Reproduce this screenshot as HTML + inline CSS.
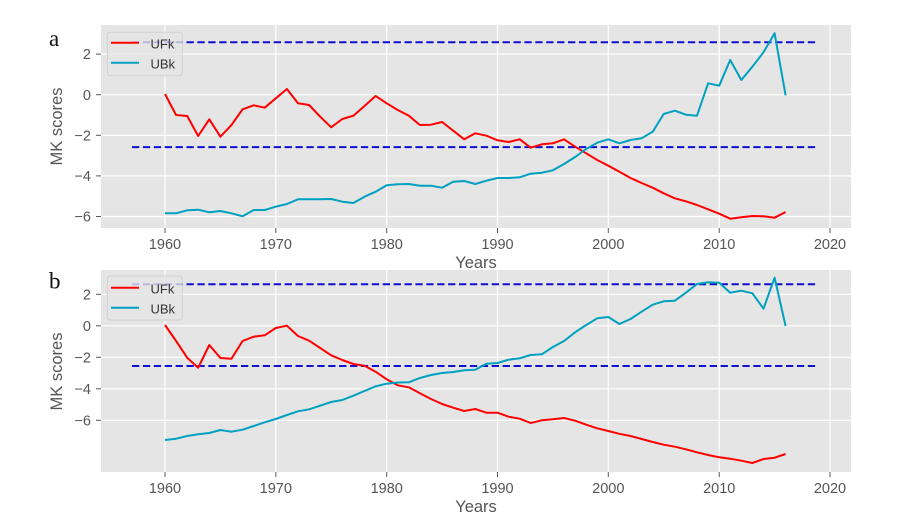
<!DOCTYPE html>
<html><head><meta charset="utf-8"><style>
html,body{margin:0;padding:0;background:#fff;}
svg{display:block;}
text{font-family:"Liberation Sans",sans-serif;}
</style></head><body>
<svg width="901" height="529" viewBox="0 0 901 529" xmlns="http://www.w3.org/2000/svg">
<rect x="0" y="0" width="901" height="529" fill="#fff"/>

<!-- ===== Panel a ===== -->
<rect x="101" y="25" width="750" height="203" fill="#e5e5e5"/>
<g stroke="#fff" stroke-width="1.2">
<line x1="101" x2="851" y1="54.1" y2="54.1"/><line x1="101" x2="851" y1="94.7" y2="94.7"/>
<line x1="101" x2="851" y1="135.3" y2="135.3"/><line x1="101" x2="851" y1="175.9" y2="175.9"/>
<line x1="101" x2="851" y1="216.5" y2="216.5"/>
<line x1="165" x2="165" y1="25" y2="228"/><line x1="275.8" x2="275.8" y1="25" y2="228"/>
<line x1="386.7" x2="386.7" y1="25" y2="228"/><line x1="497.5" x2="497.5" y1="25" y2="228"/>
<line x1="608.3" x2="608.3" y1="25" y2="228"/><line x1="719.2" x2="719.2" y1="25" y2="228"/>
<line x1="830" x2="830" y1="25" y2="228"/>
</g>
<g stroke="#555" stroke-width="1">
<line x1="165" x2="165" y1="228" y2="233"/><line x1="275.8" x2="275.8" y1="228" y2="233"/>
<line x1="386.7" x2="386.7" y1="228" y2="233"/><line x1="497.5" x2="497.5" y1="228" y2="233"/>
<line x1="608.3" x2="608.3" y1="228" y2="233"/><line x1="719.2" x2="719.2" y1="228" y2="233"/>
<line x1="830" x2="830" y1="228" y2="233"/>
<line x1="96" x2="101" y1="54.1" y2="54.1"/><line x1="96" x2="101" y1="94.7" y2="94.7"/>
<line x1="96" x2="101" y1="135.3" y2="135.3"/><line x1="96" x2="101" y1="175.9" y2="175.9"/>
<line x1="96" x2="101" y1="216.5" y2="216.5"/>
</g>
<g fill="#555" font-size="14.5" text-anchor="middle">
<text x="165" y="249">1960</text><text x="275.8" y="249">1970</text><text x="386.7" y="249">1980</text>
<text x="497.5" y="249">1990</text><text x="608.3" y="249">2000</text><text x="719.2" y="249">2010</text>
<text x="830" y="249">2020</text>
</g>
<g fill="#555" font-size="14.5" text-anchor="end">
<text x="91" y="59.2">2</text><text x="91" y="99.8">0</text><text x="91" y="140.4">−2</text>
<text x="91" y="181">−4</text><text x="91" y="221.6">−6</text>
</g>
<text x="476" y="268" fill="#555" font-size="16.5" text-anchor="middle">Years</text>
<text transform="translate(62,126.5) rotate(-90)" fill="#555" font-size="16.5" text-anchor="middle">MK scores</text>
<text x="49" y="46" font-size="23" fill="#111" style="font-family:'Liberation Serif',serif">a</text>

<g fill="none" stroke="#1010d0" stroke-width="2" stroke-dasharray="7.3 3.6">
<line x1="132" x2="818" y1="42.3" y2="42.3"/>
<line x1="132" x2="818" y1="147.1" y2="147.1"/>
</g>
<polyline fill="none" stroke="#ff0000" stroke-width="2" stroke-linejoin="round" points="165,94 176.1,115 187.2,116 198.2,136 209.3,119.3 220.4,136.7 231.5,125 242.6,109.3 253.7,105.3 264.7,107.7 275.8,98.3 286.9,89 298,103.3 309.1,105 320.2,116.7 331.2,127.3 342.3,119 353.4,115.7 364.5,106 375.6,96 386.7,103.3 397.7,110 408.8,115.7 419.9,125 431,124.7 442.1,122 453.2,130.7 464.2,139.3 475.3,133.3 486.4,135.7 497.5,140.3 508.6,142 519.7,139.3 530.7,147.7 541.8,144.3 552.9,143.3 564,139.3 575.1,146.7 586.2,153.3 597.2,160 608.3,165.7 619.4,171.7 630.5,178 641.6,183 652.7,187.7 663.7,193.3 674.8,198.3 685.9,201.3 697,205 708.1,209.3 719.2,213.7 730.2,218.7 741.3,217.3 752.4,216 763.5,216.3 774.6,217.7 785.6,212"/>
<polyline fill="none" stroke="#00a0c0" stroke-width="2" stroke-linejoin="round" points="165,213.3 176.1,213.3 187.2,210.3 198.2,209.7 209.3,212.3 220.4,211 231.5,213.3 242.6,216.3 253.7,210 264.7,210 275.8,206.7 286.9,204 298,199.3 309.1,199.3 320.2,199.3 331.2,199 342.3,201.7 353.4,203 364.5,196.7 375.6,191.7 386.7,185.3 397.7,184.3 408.8,184 419.9,185.7 431,185.7 442.1,187.7 453.2,181.7 464.2,181 475.3,184 486.4,180.7 497.5,178 508.6,178 519.7,177.3 530.7,173.7 541.8,172.7 552.9,170.3 564,164 575.1,157 586.2,149 597.2,142.7 608.3,139.3 619.4,143.3 630.5,140 641.6,138.3 652.7,131.7 663.7,114 674.8,110.7 685.9,114.7 697,115.7 708.1,83.3 719.2,85.7 730.2,60 741.3,80 752.4,66.7 763.5,52.3 774.6,33.3 785.6,95.3"/>
<!-- legend a -->
<rect x="107.3" y="32.3" width="75" height="43.4" rx="3" fill="#e5e5e5" fill-opacity="0.8" stroke="#cccccc" stroke-opacity="0.8" stroke-width="1"/>
<line x1="111" x2="139" y1="42.7" y2="42.7" stroke="#ff0000" stroke-width="2"/>
<line x1="111" x2="139" y1="62.7" y2="62.7" stroke="#00a0c0" stroke-width="2"/>
<text x="150.5" y="48.3" fill="#333" font-size="13">UFk</text>
<text x="150.5" y="68.3" fill="#333" font-size="13">UBk</text>

<!-- ===== Panel b ===== -->
<rect x="101" y="270" width="750" height="202" fill="#e5e5e5"/>
<g stroke="#fff" stroke-width="1.2">
<line x1="101" x2="851" y1="294.3" y2="294.3"/><line x1="101" x2="851" y1="325.8" y2="325.8"/>
<line x1="101" x2="851" y1="357.3" y2="357.3"/><line x1="101" x2="851" y1="388.8" y2="388.8"/>
<line x1="101" x2="851" y1="420.3" y2="420.3"/>
<line x1="165" x2="165" y1="270" y2="472"/><line x1="275.8" x2="275.8" y1="270" y2="472"/>
<line x1="386.7" x2="386.7" y1="270" y2="472"/><line x1="497.5" x2="497.5" y1="270" y2="472"/>
<line x1="608.3" x2="608.3" y1="270" y2="472"/><line x1="719.2" x2="719.2" y1="270" y2="472"/>
<line x1="830" x2="830" y1="270" y2="472"/>
</g>
<g stroke="#555" stroke-width="1">
<line x1="165" x2="165" y1="472" y2="477"/><line x1="275.8" x2="275.8" y1="472" y2="477"/>
<line x1="386.7" x2="386.7" y1="472" y2="477"/><line x1="497.5" x2="497.5" y1="472" y2="477"/>
<line x1="608.3" x2="608.3" y1="472" y2="477"/><line x1="719.2" x2="719.2" y1="472" y2="477"/>
<line x1="830" x2="830" y1="472" y2="477"/>
<line x1="96" x2="101" y1="294.3" y2="294.3"/><line x1="96" x2="101" y1="325.8" y2="325.8"/>
<line x1="96" x2="101" y1="357.3" y2="357.3"/><line x1="96" x2="101" y1="388.8" y2="388.8"/>
<line x1="96" x2="101" y1="420.3" y2="420.3"/>
</g>
<g fill="#555" font-size="14.5" text-anchor="middle">
<text x="165" y="493">1960</text><text x="275.8" y="493">1970</text><text x="386.7" y="493">1980</text>
<text x="497.5" y="493">1990</text><text x="608.3" y="493">2000</text><text x="719.2" y="493">2010</text>
<text x="830" y="493">2020</text>
</g>
<g fill="#555" font-size="14.5" text-anchor="end">
<text x="91" y="299.4">2</text><text x="91" y="330.9">0</text><text x="91" y="362.4">−2</text>
<text x="91" y="393.9">−4</text><text x="91" y="425.4">−6</text>
</g>
<text x="476" y="512" fill="#555" font-size="16.5" text-anchor="middle">Years</text>
<text transform="translate(62,371.5) rotate(-90)" fill="#555" font-size="16.5" text-anchor="middle">MK scores</text>
<text x="49" y="288.5" font-size="23" fill="#111" style="font-family:'Liberation Serif',serif">b</text>

<g fill="none" stroke="#1010d0" stroke-width="2" stroke-dasharray="7.3 3.6">
<line x1="132" x2="818" y1="284.3" y2="284.3"/>
<line x1="132" x2="818" y1="366" y2="366"/>
</g>
<polyline fill="none" stroke="#ff0000" stroke-width="2" stroke-linejoin="round" points="165,325 176.1,341 187.2,357.7 198.2,367.7 209.3,345 220.4,358 231.5,358.7 242.6,341 253.7,336.7 264.7,335.3 275.8,328 286.9,325.7 298,336 309.1,340.7 320.2,348 331.2,355.3 342.3,360 353.4,364 364.5,365.7 375.6,371.7 386.7,379.3 397.7,385.3 408.8,387.3 419.9,393.3 431,399 442.1,404 453.2,407.7 464.2,411 475.3,409 486.4,412.7 497.5,412.7 508.6,416.7 519.7,418.7 530.7,423 541.8,420.3 552.9,419.3 564,418 575.1,420.7 586.2,424.7 597.2,428.3 608.3,431 619.4,433.8 630.5,436 641.6,439 652.7,442 663.7,444.7 674.8,446.7 685.9,449.3 697,452.3 708.1,455 719.2,457.3 730.2,458.7 741.3,460.7 752.4,463 763.5,459 774.6,457.7 785.6,454"/>
<polyline fill="none" stroke="#00a0c0" stroke-width="2" stroke-linejoin="round" points="165,440 176.1,438.7 187.2,436 198.2,434.3 209.3,433 220.4,430 231.5,431.7 242.6,429.7 253.7,426 264.7,422.3 275.8,419 286.9,415 298,411.3 309.1,409.3 320.2,405.7 331.2,402 342.3,400 353.4,395.7 364.5,391 375.6,386.3 386.7,383.7 397.7,382.5 408.8,382.3 419.9,378 431,375 442.1,373 453.2,372 464.2,370.3 475.3,369.7 486.4,363.7 497.5,363 508.6,359.7 519.7,358.3 530.7,355 541.8,354.3 552.9,347 564,341 575.1,332.3 586.2,325 597.2,318.3 608.3,317 619.4,324 630.5,319 641.6,311.7 652.7,304.7 663.7,301.3 674.8,300.7 685.9,292.7 697,284 708.1,282.3 719.2,282.7 730.2,292.7 741.3,290.7 752.4,293.3 763.5,308.7 774.6,277.7 785.6,326"/>
<!-- legend b -->
<rect x="107.3" y="276" width="75" height="44" rx="3" fill="#e5e5e5" fill-opacity="0.8" stroke="#cccccc" stroke-opacity="0.8" stroke-width="1"/>
<line x1="111" x2="139" y1="287.7" y2="287.7" stroke="#ff0000" stroke-width="2"/>
<line x1="111" x2="139" y1="307.7" y2="307.7" stroke="#00a0c0" stroke-width="2"/>
<text x="150.5" y="293.3" fill="#333" font-size="13">UFk</text>
<text x="150.5" y="313.3" fill="#333" font-size="13">UBk</text>
</svg>
</body></html>
